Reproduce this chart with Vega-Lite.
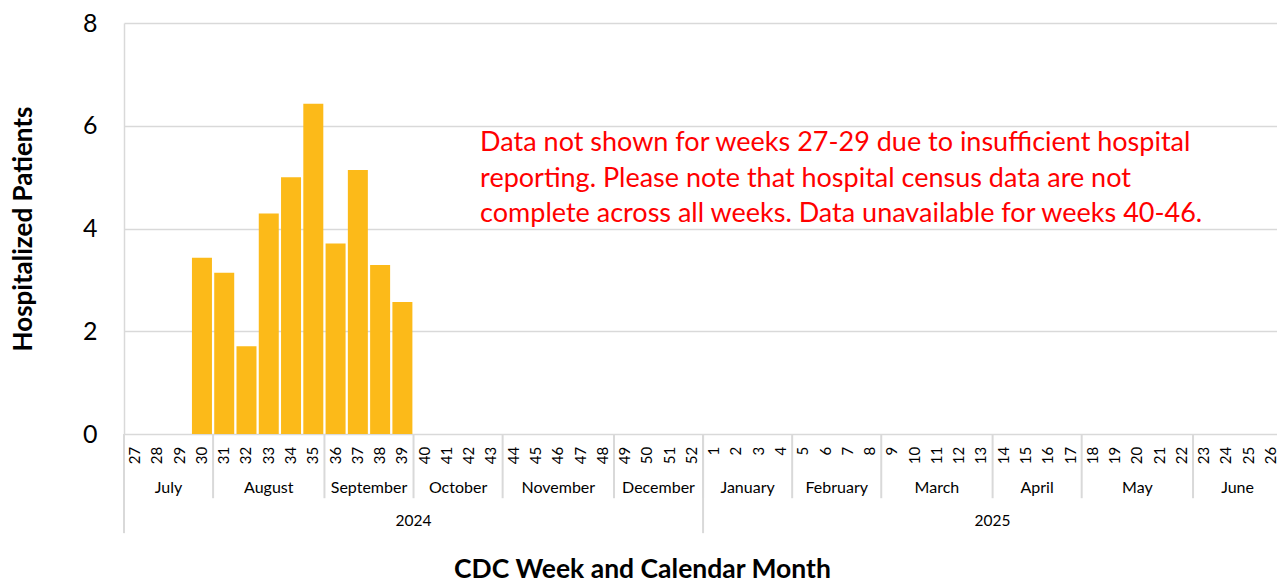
{
  "$schema": "https://vega.github.io/schema/vega-lite/v6.json",
  "width": 1153,
  "height": 411,
  "autosize": "none",
  "padding": {"left": 124, "top": 23, "right": 0, "bottom": 149},
  "background": "white",
  "config": {"font": "Lato", "view": {"stroke": null}},
  "datasets": {
    "weeks": [
      {"seq": 1, "week": "27", "month": "July", "year": "2024"},
      {"seq": 2, "week": "28", "month": "July", "year": "2024"},
      {"seq": 3, "week": "29", "month": "July", "year": "2024"},
      {"seq": 4, "week": "30", "month": "July", "year": "2024", "patients": 3.43},
      {"seq": 5, "week": "31", "month": "August", "year": "2024", "patients": 3.14},
      {"seq": 6, "week": "32", "month": "August", "year": "2024", "patients": 1.71},
      {"seq": 7, "week": "33", "month": "August", "year": "2024", "patients": 4.29},
      {"seq": 8, "week": "34", "month": "August", "year": "2024", "patients": 5.0},
      {"seq": 9, "week": "35", "month": "August", "year": "2024", "patients": 6.43},
      {"seq": 10, "week": "36", "month": "September", "year": "2024", "patients": 3.71},
      {"seq": 11, "week": "37", "month": "September", "year": "2024", "patients": 5.14},
      {"seq": 12, "week": "38", "month": "September", "year": "2024", "patients": 3.29},
      {"seq": 13, "week": "39", "month": "September", "year": "2024", "patients": 2.57},
      {"seq": 14, "week": "40", "month": "October", "year": "2024"},
      {"seq": 15, "week": "41", "month": "October", "year": "2024"},
      {"seq": 16, "week": "42", "month": "October", "year": "2024"},
      {"seq": 17, "week": "43", "month": "October", "year": "2024"},
      {"seq": 18, "week": "44", "month": "November", "year": "2024"},
      {"seq": 19, "week": "45", "month": "November", "year": "2024"},
      {"seq": 20, "week": "46", "month": "November", "year": "2024"},
      {"seq": 21, "week": "47", "month": "November", "year": "2024"},
      {"seq": 22, "week": "48", "month": "November", "year": "2024"},
      {"seq": 23, "week": "49", "month": "December", "year": "2024"},
      {"seq": 24, "week": "50", "month": "December", "year": "2024"},
      {"seq": 25, "week": "51", "month": "December", "year": "2024"},
      {"seq": 26, "week": "52", "month": "December", "year": "2024"},
      {"seq": 27, "week": "1", "month": "January", "year": "2025"},
      {"seq": 28, "week": "2", "month": "January", "year": "2025"},
      {"seq": 29, "week": "3", "month": "January", "year": "2025"},
      {"seq": 30, "week": "4", "month": "January", "year": "2025"},
      {"seq": 31, "week": "5", "month": "February", "year": "2025"},
      {"seq": 32, "week": "6", "month": "February", "year": "2025"},
      {"seq": 33, "week": "7", "month": "February", "year": "2025"},
      {"seq": 34, "week": "8", "month": "February", "year": "2025"},
      {"seq": 35, "week": "9", "month": "March", "year": "2025"},
      {"seq": 36, "week": "10", "month": "March", "year": "2025"},
      {"seq": 37, "week": "11", "month": "March", "year": "2025"},
      {"seq": 38, "week": "12", "month": "March", "year": "2025"},
      {"seq": 39, "week": "13", "month": "March", "year": "2025"},
      {"seq": 40, "week": "14", "month": "April", "year": "2025"},
      {"seq": 41, "week": "15", "month": "April", "year": "2025"},
      {"seq": 42, "week": "16", "month": "April", "year": "2025"},
      {"seq": 43, "week": "17", "month": "April", "year": "2025"},
      {"seq": 44, "week": "18", "month": "May", "year": "2025"},
      {"seq": 45, "week": "19", "month": "May", "year": "2025"},
      {"seq": 46, "week": "20", "month": "May", "year": "2025"},
      {"seq": 47, "week": "21", "month": "May", "year": "2025"},
      {"seq": 48, "week": "22", "month": "May", "year": "2025"},
      {"seq": 49, "week": "23", "month": "June", "year": "2025"},
      {"seq": 50, "week": "24", "month": "June", "year": "2025"},
      {"seq": 51, "week": "25", "month": "June", "year": "2025"},
      {"seq": 52, "week": "26", "month": "June", "year": "2025"}
    ],
    "note": [
      {"text": "Data not shown for weeks 27-29 due to insufficient hospital\nreporting. Please note that hospital census data are not\ncomplete across all weeks. Data unavailable for weeks 40-46."}
    ]
  },
  "data": {"name": "weeks"},
  "layer": [
    {
      "transform": [{"filter": "datum.patients != null"}],
      "mark": {"type": "bar", "width": 20, "color": "#FCBA19"},
      "encoding": {
        "x": {
          "field": "seq", "type": "quantitative",
          "scale": {"domain": [0.5, 52.27], "nice": false, "zero": false, "padding": 0},
          "axis": {
            "title": "CDC Week and Calendar Month",
            "labels": false, "ticks": false, "domain": false, "grid": false,
            "titleFontSize": 26.5, "titleFontWeight": "bold", "titleColor": "black",
            "titlePadding": 122, "titleX": 518, "titleAlign": "center"
          }
        },
        "y": {
          "field": "patients", "type": "quantitative",
          "scale": {"domain": [0, 8], "nice": false},
          "axis": {
            "title": "Hospitalized Patients",
            "titleFontSize": 26, "titleFontWeight": "bold", "titleColor": "black",
            "titlePadding": 46,
            "values": [0, 2, 4, 6, 8],
            "labelFontSize": 25, "labelColor": "black", "labelPadding": 27,
            "ticks": false,
            "domainColor": "#d9d9d9", "domainWidth": 1.5,
            "gridColor": "#d9d9d9", "gridWidth": 1.5
          }
        }
      }
    },
    {
      "mark": {"type": "text", "angle": 270, "align": "right", "baseline": "middle", "fontSize": 15, "color": "black"},
      "encoding": {
        "x": {"field": "seq", "type": "quantitative"},
        "y": {"datum": -0.25},
        "text": {"field": "week", "type": "nominal"}
      }
    },
    {
      "transform": [{"aggregate": [{"op": "min", "field": "seq", "as": "start"}], "groupby": ["month"]}],
      "mark": {"type": "rule", "color": "#d9d9d9", "strokeWidth": 2, "xOffset": -11.13},
      "encoding": {
        "x": {"field": "start", "type": "quantitative"},
        "y": {"datum": 0},
        "y2": {"datum": -1.25}
      }
    },
    {
      "transform": [{"aggregate": [{"op": "min", "field": "seq", "as": "start"}], "groupby": ["year"]}],
      "mark": {"type": "rule", "color": "#d9d9d9", "strokeWidth": 2, "xOffset": -11.13},
      "encoding": {
        "x": {"field": "start", "type": "quantitative"},
        "y": {"datum": 0},
        "y2": {"datum": -1.93}
      }
    },
    {
      "transform": [{"aggregate": [{"op": "mean", "field": "seq", "as": "mid"}], "groupby": ["month"]}],
      "mark": {"type": "text", "align": "center", "baseline": "middle", "fontSize": 16, "color": "black"},
      "encoding": {
        "x": {"field": "mid", "type": "quantitative"},
        "y": {"datum": -1.05},
        "text": {"field": "month", "type": "nominal"}
      }
    },
    {
      "transform": [{"aggregate": [{"op": "mean", "field": "seq", "as": "mid"}], "groupby": ["year"]}],
      "mark": {"type": "text", "align": "center", "baseline": "middle", "fontSize": 15.5, "color": "black"},
      "encoding": {
        "x": {"field": "mid", "type": "quantitative"},
        "y": {"datum": -1.69},
        "text": {"field": "year", "type": "nominal"}
      }
    },
    {
      "data": {"name": "note"},
      "mark": {"type": "text", "align": "left", "baseline": "top", "fontSize": 27, "color": "#FF0000", "lineBreak": "\n", "lineHeight": 35.5},
      "encoding": {
        "x": {"datum": 16.49},
        "y": {"datum": 5.91},
        "text": {"field": "text", "type": "nominal"}
      }
    }
  ]
}
